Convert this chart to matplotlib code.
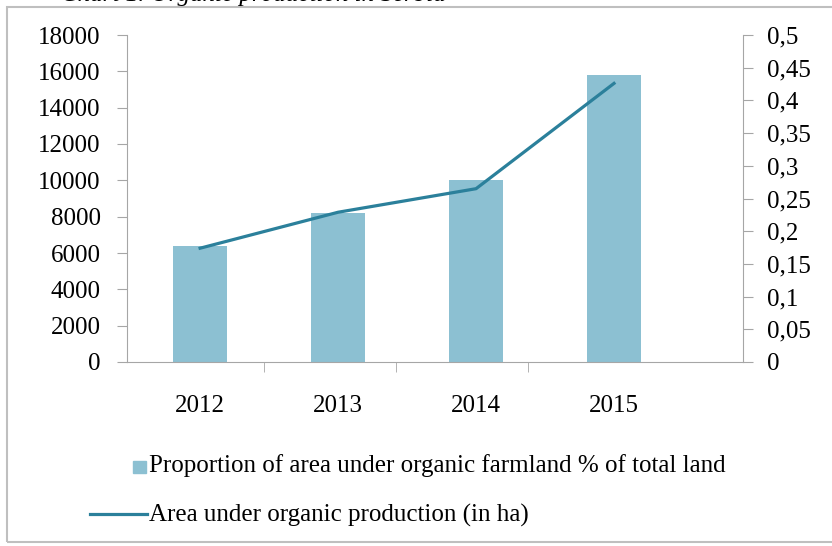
import matplotlib.pyplot as plt
from matplotlib.patches import Rectangle
from matplotlib.lines import Line2D
from matplotlib.ticker import FuncFormatter

# data
years = ['2012', '2013', '2014', '2015']
bar_values = [6400, 8200, 10000, 15800]
line_values = [0.174, 0.229, 0.265, 0.426]
bar_label = 'Proportion of area under organic farmland % of total land'
line_label = 'Area under organic production (in ha)'

bar_color = '#8CC0D2'
line_color = '#2B809B'
axis_gray = '#A6A6A6'

plt.rcParams['font.family'] = ['Liberation Serif', 'DejaVu Serif']

W, H = 832, 546
fig = plt.figure(figsize=(W / 100, H / 100), dpi=100)
fig.patch.set_facecolor('white')

# outer frame of the chart object
fig.add_artist(Rectangle((7 / W, 1 - 542 / H), (W + 20) / W, (542 - 7) / H,
                         transform=fig.transFigure, fill=False,
                         edgecolor='#BFBFBF', linewidth=1.5, clip_on=False))
# the caption above, cut by the top edge
fig.text(446 / W, 1 - 1 / H, 'Chart 1. Organic production in Serbia',
         ha='right', va='baseline', fontsize=18, style='italic')

ax = fig.add_axes([127 / W, 1 - 362 / H, (743 - 127) / W, (362 - 35) / H])
x = list(range(len(years)))
ax.bar(x, bar_values, width=0.39, color=bar_color, zorder=2)
ax.set_xlim(-0.53, 3.935)
ax.set_ylim(0, 18000)
ax.set_yticks(range(0, 18001, 2000))
ax.set_xticks(x)
ax.set_xticklabels(years)
ax.set_xticks([0.46, 1.42, 2.38], minor=True)

ax2 = ax.twinx()
ax2.plot(x, line_values, color=line_color, linewidth=2.3, zorder=3)
ax2.set_ylim(0, 0.5)
ax2.set_yticks([i * 0.05 for i in range(11)])
ax2.yaxis.set_major_formatter(FuncFormatter(lambda v, p: ('%g' % round(v, 2)).replace('.', ',')))

for a in (ax, ax2):
    for s in a.spines.values():
        s.set_visible(False)
    a.set_facecolor('none')
ax.spines['left'].set_visible(True)
ax.spines['left'].set_color(axis_gray)
ax.spines['bottom'].set_visible(True)
ax.spines['bottom'].set_color(axis_gray)
ax2.spines['right'].set_visible(True)
ax2.spines['right'].set_color(axis_gray)

fs = 18
ax.tick_params(axis='y', direction='out', length=7, color=axis_gray, pad=12, labelsize=fs)
ax.tick_params(axis='x', which='major', length=0, pad=24, labelsize=fs)
ax.tick_params(axis='x', which='minor', direction='out', length=7, color=axis_gray)
ax2.tick_params(axis='y', direction='out', length=7, color=axis_gray, pad=10, labelsize=fs)

# legend drawn by hand (Excel style: small square and a longer line)
fig.add_artist(Rectangle((133 / W, 1 - 473 / H), 13 / W, 12 / H,
                         transform=fig.transFigure, color=bar_color))
fig.text(149 / W, 1 - 466 / H, bar_label, ha='left', va='center', fontsize=fs)
fig.add_artist(Line2D([90 / W, 147 / W], [1 - 514 / H, 1 - 514 / H],
                      transform=fig.transFigure, color=line_color, linewidth=2.3))
fig.text(149 / W, 1 - 515 / H, line_label, ha='left', va='center', fontsize=fs)

fig.savefig('out.png', dpi=100)
